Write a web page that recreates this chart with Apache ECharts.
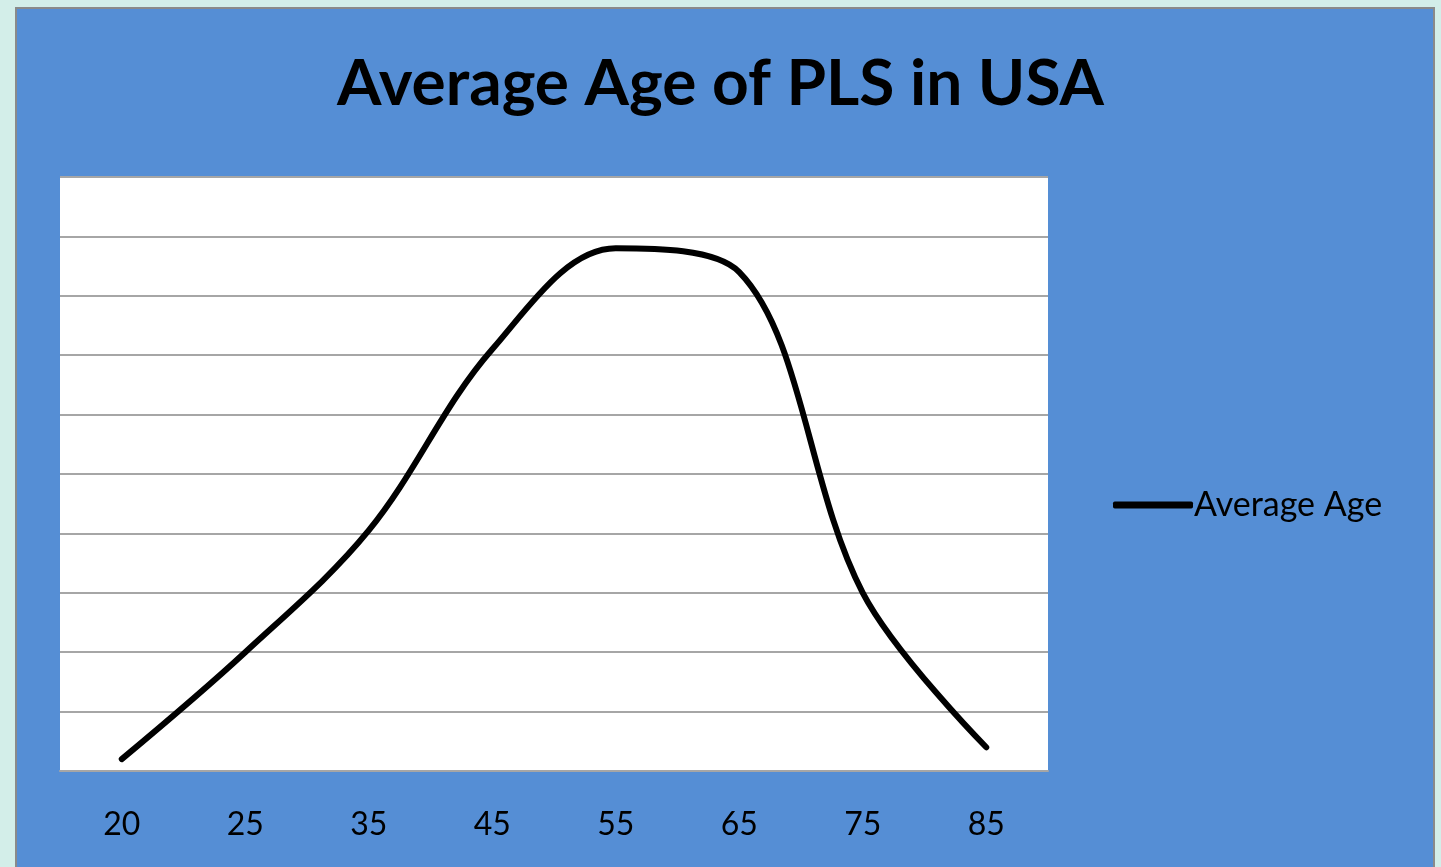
<!DOCTYPE html>
<html>
<head>
<meta charset="utf-8">
<script src="https://cdn.jsdelivr.net/npm/echarts@6/dist/echarts.min.js"></script>
<style>
  html, body { margin: 0; padding: 0; }
  #chart { width: 1441px; height: 867px; }
</style>
</head>
<body>
<div id="chart"></div>
<script>
// 横轴的年龄分组
const ageGroups = ['20', '25', '35', '45', '55', '65', '75', '85']
// 每组对应的数值（从图上读出，纵轴 0-10 无刻度文字）
const averageAge = [0.2, 2.0, 4.05, 7.1, 8.8, 8.4, 3.0, 0.4]

const chartDom = document.getElementById('chart')
const chart = echarts.init(chartDom)

chart.setOption({
  backgroundColor: '#d3eee9',
  graphic: [
    {
      type: 'rect',
      z: -10,
      shape: { x: 16, y: 8, width: 1418, height: 870 },
      style: { fill: '#558ed5', stroke: '#8a8a8a', lineWidth: 2 },
    },
  ],
  title: {
    text: 'Average Age of PLS in USA',
    left: 'center',
    top: 47,
    textStyle: {
      fontFamily: 'Lato',
      fontWeight: 'bold',
      fontSize: 64,
      color: '#000',
    },
  },
  legend: {
    left: 1108,
    top: 483,
    icon: 'roundRect',
    itemWidth: 80,
    itemHeight: 7,
    itemGap: 6,
    textStyle: {
      fontFamily: 'Lato',
      fontSize: 34,
      color: '#000',
      padding: [0, 0, 0, -4],
    },
    data: ['Average Age'],
  },
  grid: {
    left: 60,
    top: 177,
    width: 988,
    height: 594,
    show: true,
    backgroundColor: '#ffffff',
    borderWidth: 0,
  },
  xAxis: {
    type: 'category',
    data: ageGroups,
    boundaryGap: true,
    axisLine: { lineStyle: { color: '#a6a6a6', width: 2 } },
    axisTick: { length: 12, lineStyle: { color: '#a6a6a6', width: 2 } },
    axisLabel: {
      margin: 38,
      fontFamily: 'Lato',
      fontSize: 32,
      color: '#000',
    },
  },
  yAxis: {
    type: 'value',
    min: 0,
    max: 10,
    interval: 1,
    axisLine: { show: false },
    axisTick: { show: false },
    axisLabel: { show: false },
    splitLine: { lineStyle: { color: '#a6a6a6', width: 2 } },
  },
  series: [
    {
      name: 'Average Age',
      type: 'line',
      data: averageAge,
      smooth: 0.35,
      symbol: 'none',
      lineStyle: { color: '#000', width: 6, cap: 'round' },
      itemStyle: { color: '#000' },
    },
  ],
})
</script>
</body>
</html>
